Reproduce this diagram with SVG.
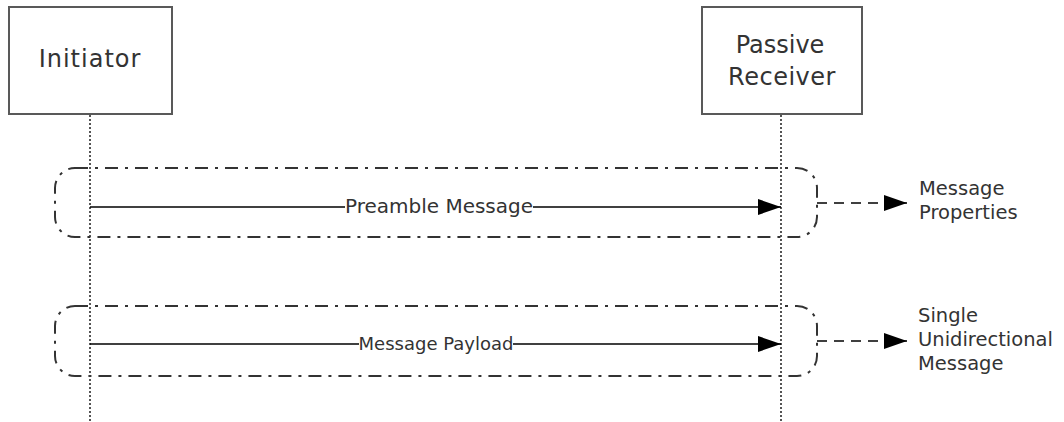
<svg xmlns="http://www.w3.org/2000/svg" width="1064" height="422" viewBox="0 0 1064 422">
  <style>
    .box { fill: #ffffff; stroke: #595959; stroke-width: 2; }
    .life { stroke: #555555; stroke-width: 2; stroke-dasharray: 2 2; fill: none; }
    .grp { fill: none; stroke: #333333; stroke-width: 2; stroke-dasharray: 13 7 3 7; }
    .msg { stroke: #000000; stroke-width: 1.3; fill: none; }
    .dash { stroke: #000000; stroke-width: 1.5; fill: none; stroke-dasharray: 10 7; }
    .lbl { font-family: "DejaVu Sans", Verdana, sans-serif; fill: #333333; }
    .big { font-size: 24px; text-anchor: middle; }
    .mid { text-anchor: middle; }
    .side { font-size: 19.5px; }
  </style>
  <defs>
    <marker id="arr" markerWidth="24" markerHeight="17" refX="23" refY="8" orient="auto" markerUnits="userSpaceOnUse">
      <path d="M0,0 L23,8 L0,16 Z" fill="#000000"/>
    </marker>
  </defs>
  <rect width="1064" height="422" fill="#ffffff"/>

  <g id="lifelines">
    <line class="life" x1="90" y1="115" x2="90" y2="422"/>
    <line class="life" x1="781" y1="115" x2="781" y2="422"/>
  </g>

  <g id="initiator">
    <rect class="box" x="9" y="7" width="163" height="107"/>
    <text class="lbl big" x="90" y="67" letter-spacing="1">Initiator</text>
  </g>

  <g id="passive-receiver">
    <rect class="box" x="702" y="7" width="160" height="107"/>
    <text class="lbl big" x="780" y="53">Passive</text>
    <text class="lbl big" x="782" y="85" letter-spacing="0.5">Receiver</text>
  </g>

  <g id="group-preamble">
    <rect class="grp" x="55" y="168" width="762" height="69" rx="20" ry="20"/>
  </g>

  <g id="group-payload">
    <rect class="grp" x="55" y="306" width="762" height="70" rx="20" ry="20"/>
  </g>

  <g id="message-properties">
    <text class="lbl side" x="919" y="195">Message</text>
    <text class="lbl side" x="919" y="219">Properties</text>
  </g>

  <g id="single-unidirectional-message">
    <text class="lbl side" x="918" y="322">Single</text>
    <text class="lbl side" x="918" y="346">Unidirectional</text>
    <text class="lbl side" x="918" y="370">Message</text>
  </g>

  <g id="connectors">
    <line class="msg" x1="90" y1="207" x2="781" y2="207" marker-end="url(#arr)"/>
    <rect x="345" y="193" width="188" height="24" fill="#ffffff"/>
    <text class="lbl mid" x="439" y="213" font-size="20">Preamble Message</text>

    <line class="msg" x1="90" y1="344" x2="781" y2="344" marker-end="url(#arr)"/>
    <rect x="359" y="331" width="154" height="24" fill="#ffffff"/>
    <text class="lbl mid" x="436" y="350" font-size="18">Message Payload</text>

    <line class="dash" x1="817" y1="203" x2="907" y2="203" marker-end="url(#arr)"/>
    <line class="dash" x1="817" y1="341" x2="907" y2="341" marker-end="url(#arr)"/>
  </g>
</svg>
